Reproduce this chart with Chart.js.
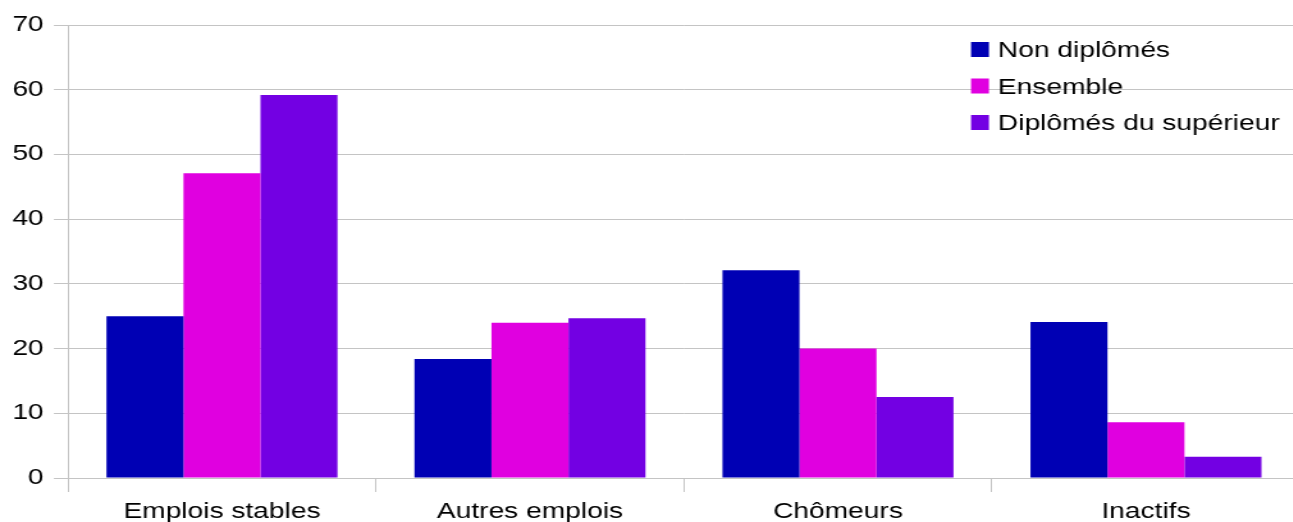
<!DOCTYPE html>
<html lang="fr">
<head>
<meta charset="utf-8">
<title>Situation selon le diplôme</title>
<script src="https://cdn.jsdelivr.net/npm/chart.js@4/dist/chart.umd.min.js"></script>
<style>
  html, body { margin: 0; padding: 0; background: #ffffff; overflow: hidden; }
  /* the chart is laid out narrow and widened horizontally */
  #wrap {
    position: relative;
    width: 1020px;
    height: 530px;
    transform: scaleX(1.28);
    transform-origin: 0 0;
  }
</style>
</head>
<body>
<div id="wrap"><canvas id="chart"></canvas></div>
<script>
// Categories and series (en %)
const categories = ['Emplois stables', 'Autres emplois', 'Chômeurs', 'Inactifs'];
const seriesNames = ['Non diplômés', 'Ensemble', 'Diplômés du supérieur'];
const nonDiplomes = [25.0, 18.4, 32.1, 24.1];
const ensemble = [47.1, 24.0, 20.0, 8.6];
const diplomesSup = [59.2, 24.7, 12.5, 3.3];
const yMin = 0, yMax = 70, yStep = 10;

const colors = ['#0000b4', '#e000e0', '#7300e3'];
const FONT = '"Liberation Sans", Arial, sans-serif';
const gridColor = '#c4c4c4';

// legend drawn over the top-right of the plot, gridlines stay visible behind it
const overlayLegend = {
  id: 'overlayLegend',
  afterDraw(chart, args, opts) {
    const ctx = chart.ctx;
    ctx.save();
    ctx.font = '22px ' + FONT;
    ctx.textBaseline = 'alphabetic';
    ctx.textAlign = 'left';
    chart.data.datasets.forEach((ds, i) => {
      const base = opts.top + i * opts.rowGap;
      ctx.fillStyle = ds.backgroundColor;
      ctx.fillRect(opts.left, base - 15, 14, 15);
      ctx.fillStyle = '#000000';
      ctx.fillText(ds.label, opts.left + 21, base);
    });
    ctx.restore();
  }
};

const seriesValues = [nonDiplomes, ensemble, diplomesSup];

new Chart(document.getElementById('chart'), {
  type: 'bar',
  data: {
    labels: categories,
    datasets: seriesNames.map((name, i) => ({
      label: name,
      data: seriesValues[i],
      backgroundColor: colors[i],
      borderWidth: 0,
      categoryPercentage: 0.75,
      barPercentage: 1.0
    }))
  },
  options: {
    responsive: true,
    maintainAspectRatio: false,
    animation: false,
    layout: { padding: { top: 25, right: 4.4, left: 0, bottom: 0 } },
    plugins: {
      legend: { display: false },
      tooltip: { enabled: false },
      overlayLegend: { left: 758.6, top: 57, rowGap: 36.5 }
    },
    scales: {
      x: {
        grid: {
          offset: true,
          drawOnChartArea: false,
          drawTicks: true,
          tickLength: 14,
          color: gridColor
        },
        border: { display: false },
        ticks: {
          color: '#000000',
          font: { family: FONT, size: 22 },
          padding: 7,
          maxRotation: 0,
          autoSkip: false
        },
        afterFit(scale) { scale.height = 52; }
      },
      y: {
        min: yMin,
        max: yMax,
        grid: {
          color: gridColor,
          lineWidth: 1,
          tickLength: 11,
          drawTicks: true
        },
        border: { display: true, color: gridColor, width: 1 },
        ticks: {
          stepSize: yStep,
          color: '#000000',
          font: { family: FONT, size: 22 },
          padding: 8
        },
        afterFit(scale) { scale.width = 53.1; }
      }
    }
  },
  plugins: [overlayLegend]
});
</script>
</body>
</html>
